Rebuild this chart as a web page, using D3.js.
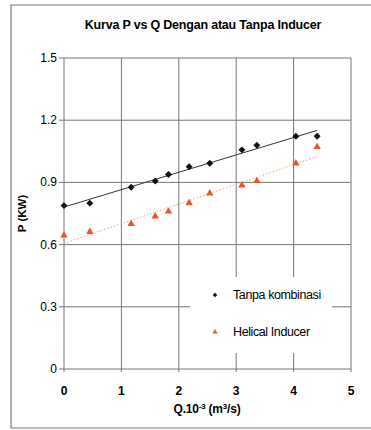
<!DOCTYPE html>
<html lang="en">
    <head>
        <meta charset="utf-8">
        <title>Kurva P vs Q</title>
        <script type="text/javascript" src="https://cdn.jsdelivr.net/npm/d3@7"></script>
        <style>
            body { margin: 0; background: #fff; }
            text { font-family: "Liberation Sans", Arial, sans-serif; }
        </style>
    </head>
    <body>
        <script type="text/javascript">

            //Width and height
            var w = 371;
            var h = 430;

            //Data
            var debit = [0, 0.45, 1.17, 1.59, 1.82, 2.18, 2.54, 3.10, 3.36, 4.04, 4.41];
            var tanpaKombinasi = [0.788, 0.80, 0.877, 0.907, 0.938, 0.976, 0.992, 1.057, 1.079, 1.123, 1.123];
            var helicalInducer = [0.645, 0.662, 0.70, 0.736, 0.76, 0.80, 0.847, 0.886, 0.907, 0.992, 1.071];
            var xTicks = [0, 1, 2, 3, 4, 5];
            var yTicks = [0, 0.3, 0.6, 0.9, 1.2, 1.5];

            var orange = "#e8552a";

            //Create scale functions
            var xScale = d3.scaleLinear()
                    .domain([0, 5])
                    .range([64, 351]);

            var yScale = d3.scaleLinear()
                    .domain([0, 1.5])
                    .range([369, 58]);

            //Create SVG element
            var svg = d3.select("body")
                    .append("svg")
                    .attr("width", w)
                    .attr("height", h);

            //outer frame
            svg.append("path")
                    .attr("d", "M11,428 L11,5 L372,5 M11,428 L372,428")
                    .attr("fill", "none")
                    .attr("stroke", "#777")
                    .attr("stroke-width", 1.2);

            //title
            svg.append("text")
                    .attr("x", 203)
                    .attr("y", 29)
                    .attr("text-anchor", "middle")
                    .attr("font-size", "12.5px")
                    .attr("font-weight", "bold")
                    .attr("letter-spacing", "-0.2px")
                    .text("Kurva P vs Q Dengan atau Tanpa Inducer");

            //gridlines
            svg.append("g")
                    .selectAll("line")
                    .data(yTicks)
                    .enter()
                    .append("line")
                    .attr("x1", xScale(0) - 5)
                    .attr("x2", xScale(5))
                    .attr("y1", function (d) { return yScale(d); })
                    .attr("y2", function (d) { return yScale(d); })
                    .attr("stroke", "#777")
                    .attr("stroke-width", 1);

            svg.append("g")
                    .selectAll("line")
                    .data(xTicks)
                    .enter()
                    .append("line")
                    .attr("x1", function (d) { return xScale(d); })
                    .attr("x2", function (d) { return xScale(d); })
                    .attr("y1", yScale(1.5))
                    .attr("y2", yScale(0) + 3)
                    .attr("stroke", "#777")
                    .attr("stroke-width", 1);

            //tick labels
            svg.append("g")
                    .selectAll("text")
                    .data(yTicks)
                    .enter()
                    .append("text")
                    .attr("x", 57)
                    .attr("y", function (d) { return yScale(d) + 4; })
                    .attr("text-anchor", "end")
                    .attr("font-size", "12px")
                    .text(function (d) { return d === 0 ? "0" : d3.format(".1f")(d); });

            svg.append("g")
                    .selectAll("text")
                    .data(xTicks)
                    .enter()
                    .append("text")
                    .attr("x", function (d) { return xScale(d); })
                    .attr("y", 395)
                    .attr("text-anchor", "middle")
                    .attr("font-size", "12px")
                    .attr("font-weight", "bold")
                    .text(function (d) { return d; });

            //axis titles
            var xTitle = svg.append("text")
                    .attr("x", 207)
                    .attr("y", 413)
                    .attr("text-anchor", "middle")
                    .attr("font-size", "12px")
                    .attr("font-weight", "bold")
                    .attr("letter-spacing", "-0.2px");
            xTitle.append("tspan").text("Q.10");
            xTitle.append("tspan").attr("dy", -4).attr("font-size", "8px").text("-3");
            xTitle.append("tspan").attr("dy", 4).text(" (m");
            xTitle.append("tspan").attr("dy", -4).attr("font-size", "8px").text("3");
            xTitle.append("tspan").attr("dy", 4).text("/s)");

            svg.append("text")
                    .attr("transform", "translate(26," + yScale(0.75) + ") rotate(-90)")
                    .attr("text-anchor", "middle")
                    .attr("font-size", "11.5px")
                    .attr("font-weight", "bold")
                    .text("P (KW)");

            //legend background covers the grid
            svg.append("rect")
                    .attr("x", 190)
                    .attr("y", 277)
                    .attr("width", 142)
                    .attr("height", 76)
                    .attr("fill", "#fff");

            //trend lines (least squares from the data)
            function fit(xs, ys) {
                var mx = d3.mean(xs), my = d3.mean(ys);
                var sxy = d3.sum(xs, function (x, i) { return (x - mx) * (ys[i] - my); });
                var sxx = d3.sum(xs, function (x) { return (x - mx) * (x - mx); });
                var b = sxy / sxx;
                return function (x) { return my + b * (x - mx); };
            }
            var fitBlack = fit(debit, tanpaKombinasi);
            var fitOrange = fit(debit, helicalInducer);
            var xEnds = d3.extent(debit);

            var line = d3.line()
                    .x(function (d) { return xScale(d[0]); })
                    .y(function (d) { return yScale(d[1]); });

            svg.append("path")
                    .attr("d", line(xEnds.map(function (x) { return [x, fitBlack(x)]; })))
                    .attr("stroke", "#333")
                    .attr("stroke-width", 1)
                    .attr("fill", "none");

            svg.append("path")
                    .attr("d", line(xEnds.map(function (x) { return [x, fitOrange(x)]; })))
                    .attr("stroke", "#f0a080")
                    .attr("stroke-width", 1)
                    .attr("stroke-dasharray", "1.5,2")
                    .attr("fill", "none");

            //markers
            var diamond = d3.symbol().type(d3.symbolSquare).size(24);
            var triangle = d3.symbol().type(d3.symbolTriangle).size(24);

            svg.append("g")
                    .selectAll("path")
                    .data(debit)
                    .enter()
                    .append("path")
                    .attr("d", diamond)
                    .attr("transform", function (d, i) {
                        return "translate(" + xScale(d) + "," + yScale(tanpaKombinasi[i]) + ") rotate(45)";
                    })
                    .attr("fill", "#111");

            svg.append("g")
                    .selectAll("path")
                    .data(debit)
                    .enter()
                    .append("path")
                    .attr("d", triangle)
                    .attr("transform", function (d, i) {
                        return "translate(" + xScale(d) + "," + yScale(helicalInducer[i]) + ")";
                    })
                    .attr("fill", orange);

            //legend
            svg.append("path")
                    .attr("d", d3.symbol().type(d3.symbolSquare).size(10))
                    .attr("transform", "translate(215,295) rotate(45)")
                    .attr("fill", "#111");
            svg.append("text")
                    .attr("x", 233)
                    .attr("y", 299)
                    .attr("font-size", "12.5px")
                    .attr("letter-spacing", "-0.4px")
                    .text("Tanpa kombinasi");

            svg.append("path")
                    .attr("d", d3.symbol().type(d3.symbolTriangle).size(12))
                    .attr("transform", "translate(215,332)")
                    .attr("fill", orange);
            svg.append("text")
                    .attr("x", 233)
                    .attr("y", 336)
                    .attr("font-size", "12.5px")
                    .attr("letter-spacing", "-0.4px")
                    .text("Helical Inducer");

        </script>
    </body>
</html>
